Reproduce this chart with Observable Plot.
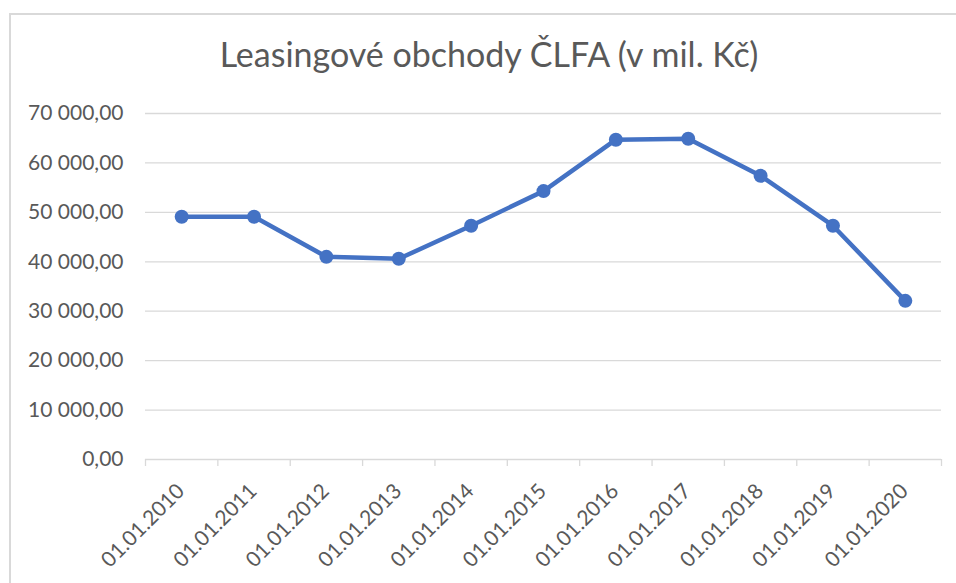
<!DOCTYPE html>
<html>
<head>
<meta charset="utf-8">
<script src="https://cdn.jsdelivr.net/npm/d3@7"></script>
<script src="https://cdn.jsdelivr.net/npm/@observablehq/plot@0.6"></script>
<style>
  html, body { margin: 0; padding: 0; background: #fff; }
  #wrap { position: relative; width: 956px; height: 583px; overflow: hidden; font-family: Lato, sans-serif; }
  #frame { position: absolute; left: 9px; top: 13px; width: 1000px; height: 700px; border: 2px solid #d9d9d9; box-sizing: border-box; }
  #title { position: absolute; left: 0; width: 978px; top: 37px; text-align: center; font-size: 34px; line-height: 1; color: #595959; margin: 0; font-weight: 400; white-space: nowrap; }
  #chart { position: absolute; left: 0; top: 0; }
</style>
</head>
<body>
<div id="wrap">
  <div id="frame"></div>
  <h1 id="title">Leasingové obchody ČLFA (v mil. Kč)</h1>
  <div id="chart"></div>
</div>
<script>
const dates = ["01.01.2010","01.01.2011","01.01.2012","01.01.2013","01.01.2014","01.01.2015","01.01.2016","01.01.2017","01.01.2018","01.01.2019","01.01.2020"];
const values = [49100, 49100, 41000, 40600, 47300, 54300, 64700, 64900, 57400, 47300, 32100];
const yTicks = [0, 10000, 20000, 30000, 40000, 50000, 60000, 70000];

const fmt = d3.formatLocale({decimal: ",", thousands: " ", grouping: [3], currency: ["", ""]}).format(",.2f");
const boundaries = d3.range(dates.length + 1).map(i => i - 0.5);
const idx = (d, i) => i;

const chart = Plot.plot({
  width: 956,
  height: 583,
  marginLeft: 145,
  marginRight: 15,
  marginTop: 113,
  marginBottom: 124,
  style: { fontFamily: "Lato, sans-serif", fontSize: "21px", color: "#595959", background: "transparent", overflow: "visible" },
  x: { type: "linear", domain: [-0.5, dates.length - 0.5], axis: null },
  y: { domain: [0, 70000], axis: null },
  marks: [
    Plot.ruleY(yTicks, { stroke: "#d9d9d9", strokeWidth: 1.3, strokeOpacity: 1 }),
    Plot.axisY(yTicks, { tickSize: 0, tickPadding: 22, tickFormat: fmt, fontSize: 21, fill: "#595959" }),
    Plot.axisX(boundaries, { tickSize: 7, tickFormat: () => "", stroke: "#d9d9d9", strokeWidth: 1.3, strokeOpacity: 1 }),
    Plot.text(dates, { x: idx, frameAnchor: "bottom", text: d => d, rotate: -45, textAnchor: "end", lineAnchor: "bottom", dx: 4, dy: 33, fontSize: 21, fill: "#595959" }),
    Plot.line(values, { x: idx, y: d => d, stroke: "#4472C4", strokeWidth: 4.5, strokeLinejoin: "round", strokeLinecap: "round" }),
    Plot.dot(values, { x: idx, y: d => d, r: 7, fill: "#4472C4", stroke: "none" })
  ]
});
document.getElementById("chart").appendChild(chart);
</script>
</body>
</html>
